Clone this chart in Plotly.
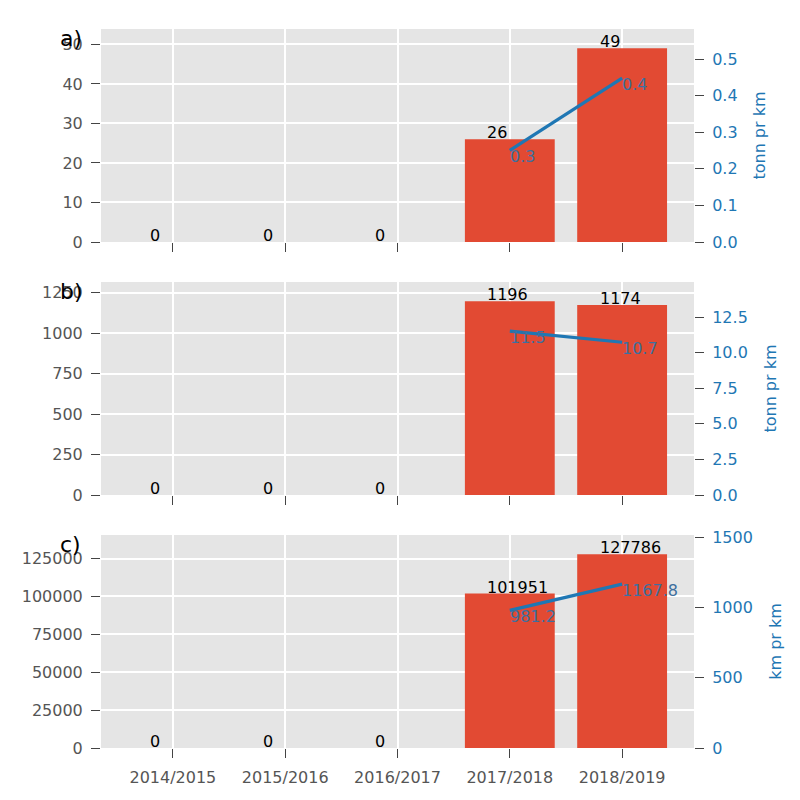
import plotly.graph_objects as go

categories = ["2014/2015", "2015/2016", "2016/2017", "2017/2018", "2018/2019"]
tonn_total = [0, 0, 0, 26, 49]
tonn_pr_km_a = [None, None, None, 0.2502, 0.4478]
tonn_total_b = [0, 0, 0, 1196, 1174]
tonn_pr_km_b = [None, None, None, 11.51, 10.73]
km_total = [0, 0, 0, 101951, 127786]
km_pr_km = [None, None, None, 981.2, 1167.8]

panels = [
    ("a)", tonn_total, tonn_pr_km_a, "tonn pr km", [0, 10, 20, 30, 40, 50], [0, 0.1, 0.2, 0.3, 0.4, 0.5], ".1f"),
    ("b)", tonn_total_b, tonn_pr_km_b, "tonn pr km", [0, 250, 500, 750, 1000, 1250], [0, 2.5, 5, 7.5, 10, 12.5], ".1f"),
    ("c)", km_total, km_pr_km, "km pr km", [0, 25000, 50000, 75000, 100000, 125000], [0, 500, 1000, 1500], "d"),
]

BAR = "#E24A33"
LINE = "#1f77b4"
TXT_BLUE = "#3d6f9e"
GREY = "#555555"
TICKC = "#444444"
FONT = "DejaVu Sans"
FS = 16

W = 800
xpos = list(range(len(categories)))
x_dom = [101 / W, 694 / W]
tops = [29, 282, 535]
height = 213

fig = go.Figure()
layout = dict(
    width=800, height=800, margin=dict(l=0, r=0, t=0, b=0, autoexpand=False),
    paper_bgcolor="white", plot_bgcolor="#E5E5E5",
    showlegend=False, font=dict(family=FONT, size=FS, color=GREY),
    annotations=[], bargap=0.2,
)

for i, (lab, bars, line, rlabel, lticks, rticks, rfmt) in enumerate(panels):
    xn = "x" if i == 0 else f"x{i+1}"
    yl = 2 * i + 1
    yr = 2 * i + 2
    yln = "y" if yl == 1 else f"y{yl}"
    yrn = f"y{yr}"
    top = tops[i]
    dom = [1 - (top + height) / W, 1 - top / W]

    fig.add_trace(go.Bar(x=xpos, y=bars, marker=dict(color=BAR, line=dict(width=0)),
                         width=0.8, xaxis=xn, yaxis=yln))
    fig.add_trace(go.Scatter(x=xpos, y=line, mode="lines", line=dict(color=LINE, width=3.2),
                             xaxis=xn, yaxis=yrn))

    lmax = max(bars) * 1.1
    rmax = max(v for v in line if v is not None) * 1.3

    layout[f"xaxis{'' if i == 0 else i+1}"] = dict(
        domain=x_dom, anchor=yln, range=[-0.64, 4.64], automargin=False,
        tickvals=xpos, ticktext=categories, showticklabels=(i == 2),
        ticks="outside", ticklen=9, tickwidth=1.4, tickcolor=TICKC,
        ticklabelstandoff=6,
        showgrid=True, gridcolor="white", gridwidth=1.7, zeroline=False,
        showline=False, tickfont=dict(size=FS, color=GREY),
    )
    layout[f"yaxis{'' if yl == 1 else yl}"] = dict(
        domain=dom, anchor=xn, range=[0, lmax], tickvals=lticks, tickformat="d",
        automargin=False,
        ticks="outside", ticklen=9, tickwidth=1.4, tickcolor=TICKC,
        ticklabelstandoff=5,
        showgrid=True, gridcolor="white", gridwidth=1.7, zeroline=False,
        showline=False, tickfont=dict(size=FS, color=GREY),
    )
    layout[f"yaxis{yr}"] = dict(
        domain=dom, anchor=xn, overlaying=yln, side="right", range=[0, rmax],
        tickvals=rticks, tickformat=rfmt, automargin=False,
        ticks="outside", ticklen=9, tickwidth=1.4, tickcolor=TICKC,
        ticklabelstandoff=5,
        showgrid=False, zeroline=False, showline=False,
        tickfont=dict(size=FS, color=LINE),
        title=dict(text=rlabel, font=dict(size=FS, color=LINE), standoff=17),
    )

    for xi, v in zip(xpos, bars):
        layout["annotations"].append(dict(
            x=xi - 0.2, y=v, xref=xn, yref=yln, text=str(v), showarrow=False,
            xanchor="left", yanchor="bottom", yshift=-5, xshift=-2,
            font=dict(size=FS, color="black", family=FONT)))
    for xi, v in zip(xpos, line):
        if v is None:
            continue
        layout["annotations"].append(dict(
            x=xi, y=v, xref=xn, yref=yrn, text=format(v, ".1f"), showarrow=False,
            xanchor="left", yanchor="top", xshift=-2, yshift=5,
            font=dict(size=FS, color=TXT_BLUE, family=FONT)))
    layout["annotations"].append(dict(
        x=58 / W, y=1 - (top - 5) / W, xref="paper", yref="paper", text=lab,
        showarrow=False, xanchor="left", yanchor="top",
        font=dict(size=22, color="black", family=FONT)))

fig.update_layout(**layout)
fig.write_html("out.html")
